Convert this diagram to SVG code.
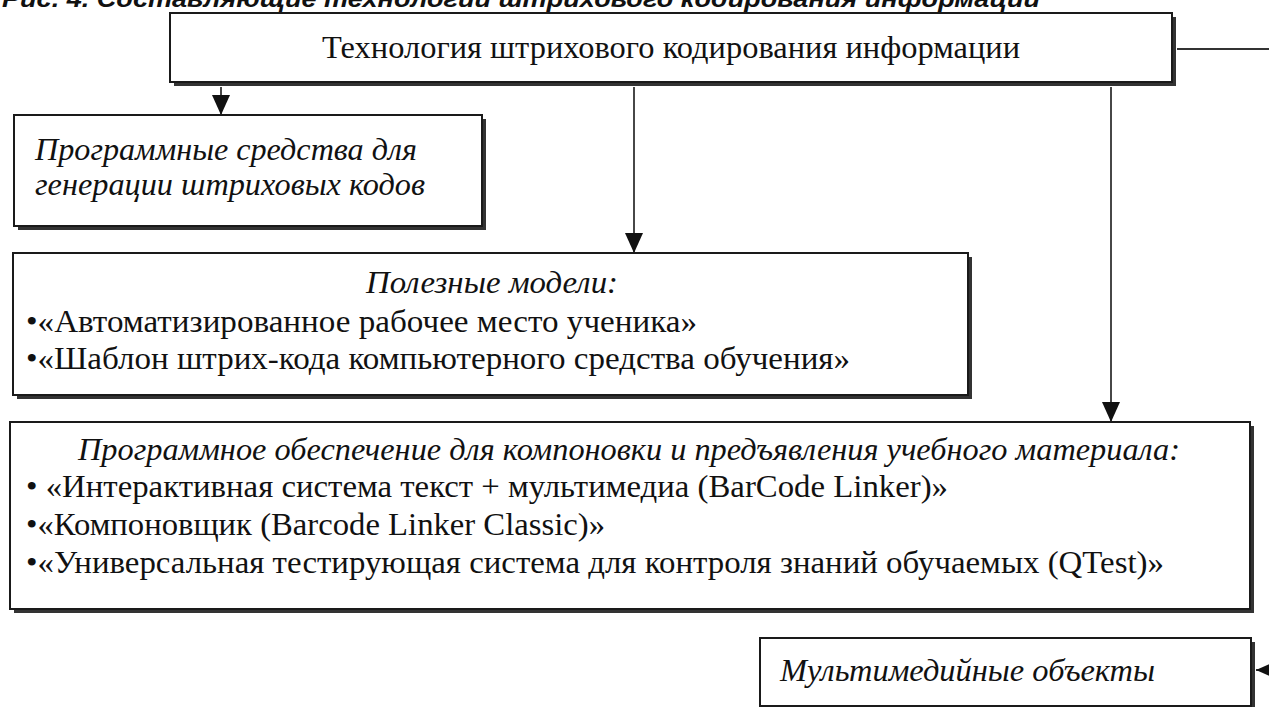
<svg xmlns="http://www.w3.org/2000/svg" width="1269" height="707" viewBox="0 0 1269 707">
<style>
.shadow{fill:#333}
.box{fill:#fff;stroke:#1a1a1a;stroke-width:2}
.t{font-family:"Liberation Serif","Times New Roman",serif;font-size:32px;fill:#111}
.i{font-style:italic}
.cap{font-family:"Liberation Sans",Arial,sans-serif;font-size:24px;font-weight:bold;font-style:italic;fill:#111}
.con{fill:none;stroke:#333;stroke-width:1.8}
</style>
<defs>
<marker id="arr" markerWidth="22" markerHeight="20" refX="20" refY="9" orient="auto" markerUnits="userSpaceOnUse">
<path d="M0,0 L20,9 L0,18 Z" fill="#111"/>
</marker>
</defs>
<text class="cap" x="2" y="7" textLength="1038" lengthAdjust="spacingAndGlyphs">Рис. 4. Составляющие технологии штрихового кодирования информации</text>
<g id="connectors">
<line class="con" x1="221" y1="87" x2="221" y2="115" marker-end="url(#arr)"/>
<line class="con" x1="634" y1="87" x2="634" y2="253" marker-end="url(#arr)"/>
<line class="con" x1="1111" y1="87" x2="1111" y2="422" marker-end="url(#arr)"/>
<path class="con" d="M1177,49 H1290 V670 H1256" marker-end="url(#arr)"/>
</g>
<g id="node-top">
<rect class="shadow" x="174" y="17" width="1002" height="69"/>
<rect class="box" x="170" y="13" width="1002" height="69"/>
<text class="t" x="322" y="58" textLength="698" lengthAdjust="spacingAndGlyphs">Технология штрихового кодирования информации</text>
</g>
<g id="node-software">
<rect class="shadow" x="18" y="119" width="468" height="111"/>
<rect class="box" x="14" y="115" width="468" height="111"/>
<text class="t i" x="35" y="160" textLength="382" lengthAdjust="spacingAndGlyphs">Программные средства для</text>
<text class="t i" x="35" y="195" textLength="390" lengthAdjust="spacingAndGlyphs">генерации штриховых кодов</text>
</g>
<g id="node-models">
<rect class="shadow" x="17" y="257" width="955" height="142"/>
<rect class="box" x="13" y="253" width="955" height="142"/>
<text class="t i" x="366" y="293" textLength="252" lengthAdjust="spacingAndGlyphs">Полезные модели:</text>
<text class="t" x="26" y="332" textLength="671" lengthAdjust="spacingAndGlyphs">•«Автоматизированное рабочее место ученика»</text>
<text class="t" x="26" y="369" textLength="824" lengthAdjust="spacingAndGlyphs">•«Шаблон штрих-кода компьютерного средства обучения»</text>
</g>
<g id="node-programs">
<rect class="shadow" x="14" y="426" width="1240" height="187"/>
<rect class="box" x="10" y="422" width="1240" height="187"/>
<text class="t i" x="78" y="460" textLength="1102" lengthAdjust="spacingAndGlyphs">Программное обеспечение для компоновки и предъявления учебного материала:</text>
<text class="t" x="26" y="497" textLength="922" lengthAdjust="spacingAndGlyphs">• «Интерактивная система текст + мультимедиа (BarCode Linker)»</text>
<text class="t" x="26" y="535" textLength="579" lengthAdjust="spacingAndGlyphs">•«Компоновщик (Barcode Linker Classic)»</text>
<text class="t" x="26" y="573" textLength="1138" lengthAdjust="spacingAndGlyphs">•«Универсальная тестирующая система для контроля знаний обучаемых (QTest)»</text>
</g>
<g id="node-multimedia">
<rect class="shadow" x="764" y="642" width="491" height="68"/>
<rect class="box" x="760" y="638" width="491" height="68"/>
<text class="t i" x="780" y="681" textLength="375" lengthAdjust="spacingAndGlyphs">Мультимедийные объекты</text>
</g>
</svg>
